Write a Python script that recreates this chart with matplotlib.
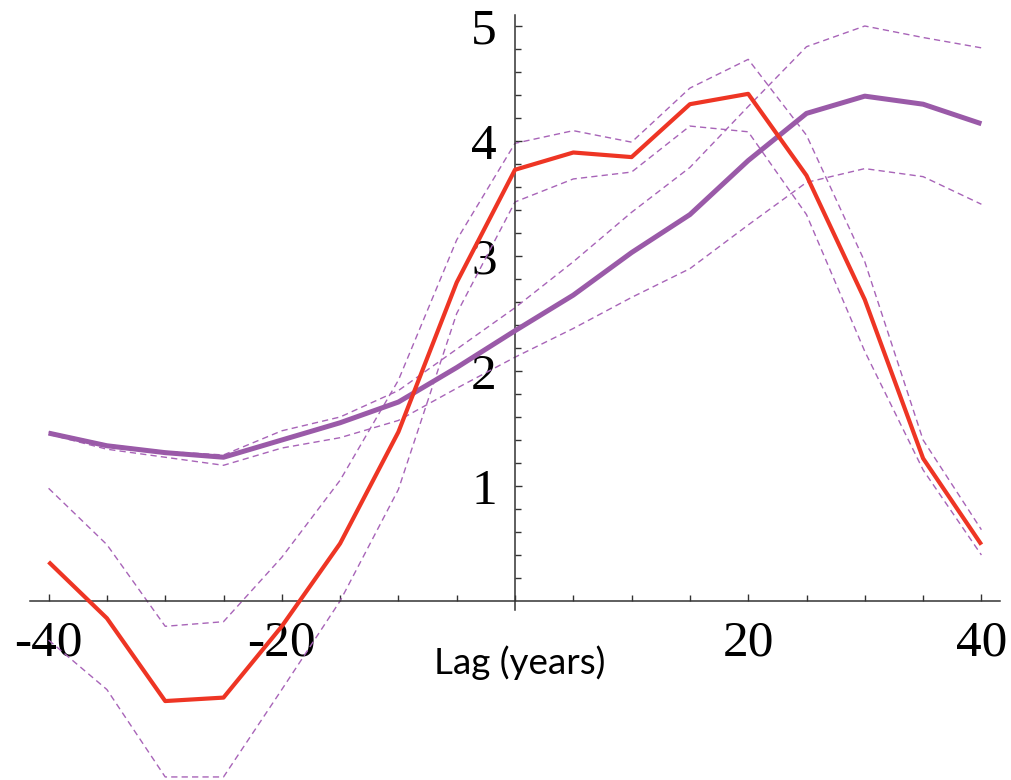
import numpy as np
import matplotlib.pyplot as plt

lag = [-40, -35, -30, -25, -20, -15, -10, -5, 0, 5, 10, 15, 20, 25, 30, 35, 40]

red_mean = [0.34, -0.15, -0.87, -0.84, -0.22, 0.50, 1.47, 2.77, 3.75, 3.90, 3.86, 4.32, 4.41, 3.70, 2.62, 1.24, 0.49]
red_hi = [0.98, 0.49, -0.22, -0.18, 0.38, 1.05, 1.92, 3.14, 3.98, 4.09, 3.99, 4.46, 4.71, 4.05, 2.95, 1.40, 0.62]
red_lo = [-0.34, -0.77, -1.53, -1.53, -0.77, 0.00, 0.97, 2.50, 3.47, 3.67, 3.73, 4.13, 4.08, 3.36, 2.17, 1.14, 0.40]

purple_mean = [1.46, 1.35, 1.29, 1.25, 1.40, 1.55, 1.73, 2.03, 2.35, 2.66, 3.03, 3.36, 3.83, 4.24, 4.39, 4.32, 4.15]
purple_hi = [1.47, 1.36, 1.30, 1.27, 1.48, 1.60, 1.83, 2.19, 2.55, 2.95, 3.38, 3.77, 4.30, 4.82, 5.00, 4.90, 4.81]
purple_lo = [1.45, 1.32, 1.25, 1.18, 1.33, 1.42, 1.57, 1.85, 2.12, 2.37, 2.64, 2.89, 3.27, 3.64, 3.76, 3.69, 3.45]

xticks = [-40, -20, 20, 40]
xtick_labels = ['-40', '-20', '20', '40']
yticks = [1, 2, 3, 4, 5]

RED = '#ee3524'
PURPLE = '#9a5aa8'
BAND = '#a864b8'

fig = plt.figure(figsize=(10.11, 7.80), dpi=100)
ax = fig.add_axes([0, 0, 1, 1])
ax.patch.set_alpha(0)

dash = (0, (4.5, 3))
for band in (red_hi, red_lo, purple_hi, purple_lo):
    ax.plot(lag, band, color=BAND, lw=1.0, linestyle=dash, zorder=2)
ax.plot(lag, purple_mean, color=PURPLE, lw=3.6, zorder=3, solid_capstyle='butt')
ax.plot(lag, red_mean, color=RED, lw=3.0, zorder=4, solid_capstyle='butt')

ax.set_xlim(-515 / 11.66, (1011 - 515) / 11.66)
ax.set_ylim((601 - 780) / 115, 601 / 115)

for side in ('top', 'right'):
    ax.spines[side].set_visible(False)
ax.spines['left'].set_position(('data', 0))
ax.spines['bottom'].set_position(('data', 0))
ax.spines['left'].set_bounds(-0.08, 5.1)
ax.spines['bottom'].set_bounds(-41.6, 41.6)
for side in ('left', 'bottom'):
    ax.spines[side].set_color('#333333')
    ax.spines[side].set_linewidth(1.1)

ax.set_xticks(xticks)
ax.set_xticklabels(xtick_labels)
ax.set_xticks(np.arange(-40, 41, 5), minor=True)
ax.set_yticks(yticks)
ax.set_yticks(np.arange(0.2, 5.01, 0.2), minor=True)

ax.tick_params(which='both', direction='in', color='#333333', width=1.0)
ax.tick_params(which='major', length=5)
ax.tick_params(which='minor', length=4)
ax.tick_params(axis='x', which='major', pad=14)
ax.tick_params(axis='y', which='major', pad=13)
for lab in ax.get_xticklabels() + ax.get_yticklabels():
    lab.set_fontfamily('Liberation Serif')
    lab.set_fontsize(37)

fig.text(520 / 1011, 1 - 663 / 780, 'Lag (years)', family='Lato', fontsize=26.5,
         ha='center', va='center')

fig.savefig('out.png', dpi=100)
